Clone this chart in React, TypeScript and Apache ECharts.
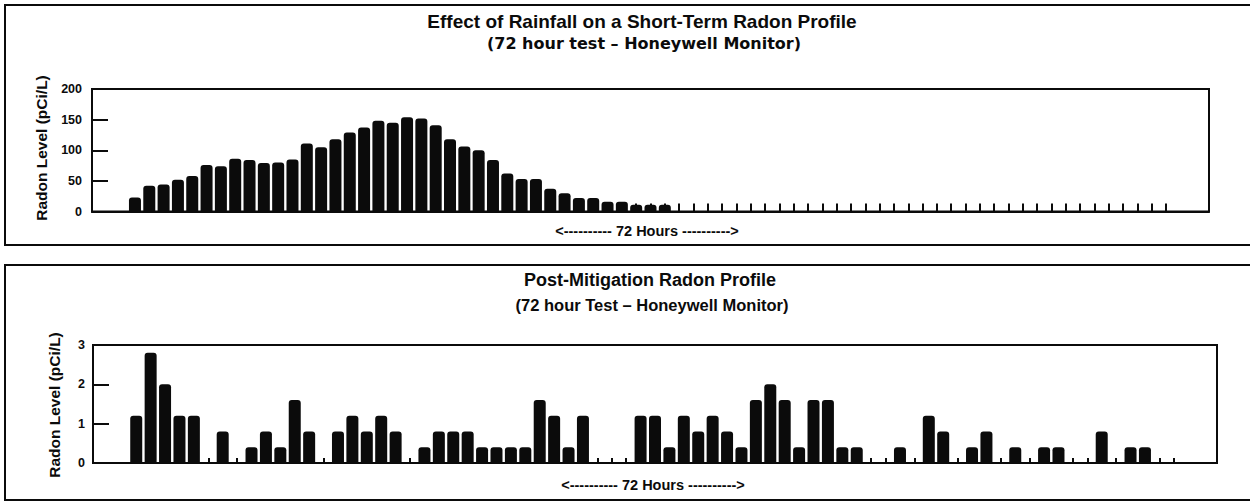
import React, { useEffect, useRef } from "react";
import * as echarts from "echarts";

// hourly readings, hour 0 .. 72
const hours = [
  "0","1","2","3","4","5","6","7","8","9","10","11","12","13","14","15","16","17","18","19",
  "20","21","22","23","24","25","26","27","28","29","30","31","32","33","34","35","36","37","38","39",
  "40","41","42","43","44","45","46","47","48","49","50","51","52","53","54","55","56","57","58","59",
  "60","61","62","63","64","65","66","67","68","69","70","71","72",
];
const padBefore = ["pre3", "pre2", "pre1"];
const padAfter = ["post1", "post2", "post3"];

// Effect of rainfall (pCi/L)
const rainfallRadon = [
  23, 42, 44, 52, 58, 76, 74, 86, 84, 79, 80, 85, 111, 105, 118, 129, 137, 148, 145, 154,
  152, 141, 118, 106, 100, 84, 62, 53, 53, 37, 30, 22, 22, 16, 16, 11, 11, 11, 0, 0,
  0, 0, 0, 0, 0, 0, 0, 0, 0, 0, 0, 0, 0, 0, 0, 0, 0, 0, 0, 0,
  0, 0, 0, 0, 0, 0, 0, 0, 0, 0, 0, 0, 0,
];

// Post-mitigation (pCi/L)
const postRadon = [
  1.2, 2.8, 2.0, 1.2, 1.2, 0, 0.8, 0, 0.4, 0.8, 0.4, 1.6, 0.8, 0, 0.8, 1.2, 0.8, 1.2, 0.8, 0,
  0.4, 0.8, 0.8, 0.8, 0.4, 0.4, 0.4, 0.4, 1.6, 1.2, 0.4, 1.2, 0, 0, 0, 1.2, 1.2, 0.4, 1.2, 0.8,
  1.2, 0.8, 0.4, 1.6, 2.0, 1.6, 0.4, 1.6, 1.6, 0.4, 0.4, 0, 0, 0.4, 0, 1.2, 0.8, 0, 0.4, 0.8,
  0, 0.4, 0, 0.4, 0.4, 0, 0, 0.8, 0, 0.4, 0.4, 0, 0,
];

const topTicks = [0, 50, 100, 150, 200];
const bottomTicks = [0, 1, 2, 3];

const topTitle = "Effect of Rainfall on a Short-Term Radon Profile";
const topSubtitle = "(72 hour test \u2013 Honeywell Monitor)";
const bottomTitle = "Post-Mitigation Radon Profile";
const bottomSubtitle = "(72 hour Test \u2013 Honeywell Monitor)";
const hoursLabel = "<---------- 72 Hours ---------->";
const yName = "Radon Level (pCi/L)";

const INK = "#0b0b0b";
const FONT = "Liberation Sans";

function text(x: number, y: number, t: string, size: number, opts: any = {}) {
  return {
    type: "text",
    x,
    y,
    rotation: opts.rotation || 0,
    silent: true,
    style: {
      text: t,
      fill: INK,
      font: `bold ${size}px "${opts.family || FONT}"`,
      textAlign: "center",
      textVerticalAlign: "middle",
      align: "center",
      verticalAlign: "middle",
    },
  };
}

export default function App() {
  const ref = useRef<HTMLDivElement>(null);
  useEffect(() => {
    if (!ref.current) return;
    const chart = echarts.init(ref.current, undefined, { renderer: "svg" });
    const cats = [...padBefore, ...hours, ...padAfter];
    const pad = (arr: number[]) => [null, null, null, ...arr, null, null, null];
    const tickShown = (i: number) => i >= padBefore.length && i < padBefore.length + hours.length;
    const xBase = (gridIndex: number, tickLen: number) => ({
      type: "category",
      gridIndex,
      data: cats,
      boundaryGap: false,
      axisLine: { show: true, lineStyle: { color: INK, width: 2 } },
      axisTick: { show: true, inside: true, length: tickLen, interval: tickShown, lineStyle: { color: INK, width: 2 } },
      axisLabel: { show: false },
      splitLine: { show: false },
    });
    const yBase = (gridIndex: number, max: number, interval: number, margin: number) => ({
      type: "value",
      gridIndex,
      min: 0,
      max,
      interval,
      axisLine: { show: true, lineStyle: { color: INK, width: 2 } },
      axisTick: { show: true, inside: true, length: 16, lineStyle: { color: INK, width: 2 } },
      axisLabel: { show: true, color: INK, fontWeight: "bold", fontSize: 12.5, fontFamily: FONT, margin },
      splitLine: { show: false },
    });
    chart.setOption({
      animation: false,
      backgroundColor: "#ffffff",
      grid: [
        { left: 92, top: 89, width: 1117, height: 122.5, show: true, borderColor: INK, borderWidth: 2 },
        { left: 93, top: 345, width: 1124, height: 118, show: true, borderColor: INK, borderWidth: 2 },
      ],
      xAxis: [xBase(0, 8), xBase(1, 5)],
      yAxis: [yBase(0, topTicks[topTicks.length - 1], topTicks[1] - topTicks[0], 10),
              yBase(1, bottomTicks[bottomTicks.length - 1], bottomTicks[1] - bottomTicks[0], 8)],
      series: [
        {
          type: "bar",
          name: "Rainfall",
          xAxisIndex: 0,
          yAxisIndex: 0,
          data: pad(rainfallRadon),
          barWidth: 12,
          itemStyle: { color: INK, borderRadius: [3, 3, 0, 0] },
        },
        {
          type: "bar",
          name: "Post-Mitigation",
          xAxisIndex: 1,
          yAxisIndex: 1,
          data: pad(postRadon),
          barWidth: 12,
          itemStyle: { color: INK, borderRadius: [3, 3, 0, 0] },
        },
      ],
      graphic: [
        { type: "rect", silent: true, shape: { x: 5, y: 5, width: 1270, height: 240 }, style: { fill: "none", stroke: INK, lineWidth: 2 } },
        { type: "rect", silent: true, shape: { x: 5, y: 265, width: 1270, height: 235 }, style: { fill: "none", stroke: INK, lineWidth: 2 } },
        text(642, 21, topTitle, 19),
        text(644, 43, topSubtitle, 16, { family: "DejaVu Sans" }),
        text(647, 231, hoursLabel, 14.5),
        text(41, 148, yName, 15.5, { rotation: Math.PI / 2 }),
        text(650, 280, bottomTitle, 18),
        text(652, 305, bottomSubtitle, 16.5),
        text(653, 485, hoursLabel, 14.5),
        text(54, 405, yName, 15.5, { rotation: Math.PI / 2 }),
      ],
    });
    return () => chart.dispose();
  }, []);
  return (
    <div
      ref={ref}
      style={{ position: "fixed", left: 0, top: 0, width: 1250, height: 502, background: "#fff" }}
    />
  );
}
